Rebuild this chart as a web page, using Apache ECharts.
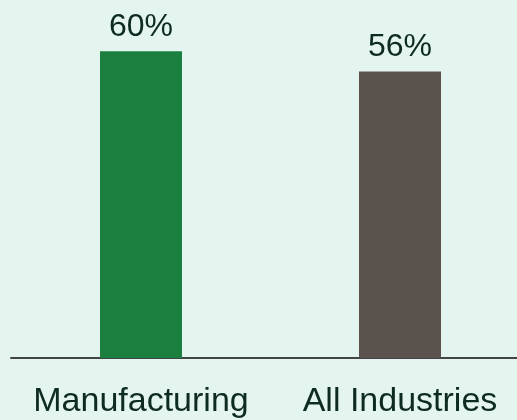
<!DOCTYPE html>
<html>
<head>
<meta charset="utf-8">
<script src="https://cdn.jsdelivr.net/npm/echarts@6/dist/echarts.min.js"></script>
<style>
  html, body { margin: 0; padding: 0; background: #e4f4ef; }
  #chart { width: 517px; height: 420px; }
</style>
</head>
<body>
<div id="chart"></div>
<script>
var categories = ['Manufacturing', 'All Industries']
var values = [60, 56]
var barColors = ['#1b7f3f', '#5a524c']

var myChart = echarts.init(document.getElementById('chart'))
var option = {
  backgroundColor: '#e4f4ef',
  grid: [
    // bars: categories sit on the grid edges
    { left: 141, right: 117, top: 0, bottom: 62 },
    // full-width baseline
    { left: 11, right: 0, top: 0, bottom: 62 }
  ],
  xAxis: [{
    type: 'category',
    gridIndex: 0,
    data: categories,
    boundaryGap: false,
    axisLine: { show: false },
    axisTick: { show: false },
    splitLine: { show: false },
    axisLabel: {
      interval: 0,
      color: '#0d2b1e',
      fontFamily: 'Liberation Sans',
      fontSize: 34,
      margin: 27
    }
  }, {
    type: 'category',
    gridIndex: 1,
    data: categories,
    axisLine: {
      lineStyle: { color: '#444444', width: 2 }
    },
    axisTick: { show: false },
    axisLabel: { show: false }
  }],
  yAxis: [{
    type: 'value',
    gridIndex: 0,
    min: 0,
    max: 70,
    show: false
  }, {
    type: 'value',
    gridIndex: 1,
    min: 0,
    max: 70,
    show: false
  }],
  series: [{
    type: 'bar',
    xAxisIndex: 0,
    yAxisIndex: 0,
    barWidth: 82,
    z: 3,
    data: values.map(function (v, i) {
      return { value: v, itemStyle: { color: barColors[i] } }
    }),
    label: {
      show: true,
      position: 'top',
      distance: 8,
      color: '#0d2b1e',
      fontFamily: 'Liberation Sans',
      fontSize: 32,
      formatter: '{c}%'
    }
  }]
}
myChart.setOption(option)
</script>
</body>
</html>
